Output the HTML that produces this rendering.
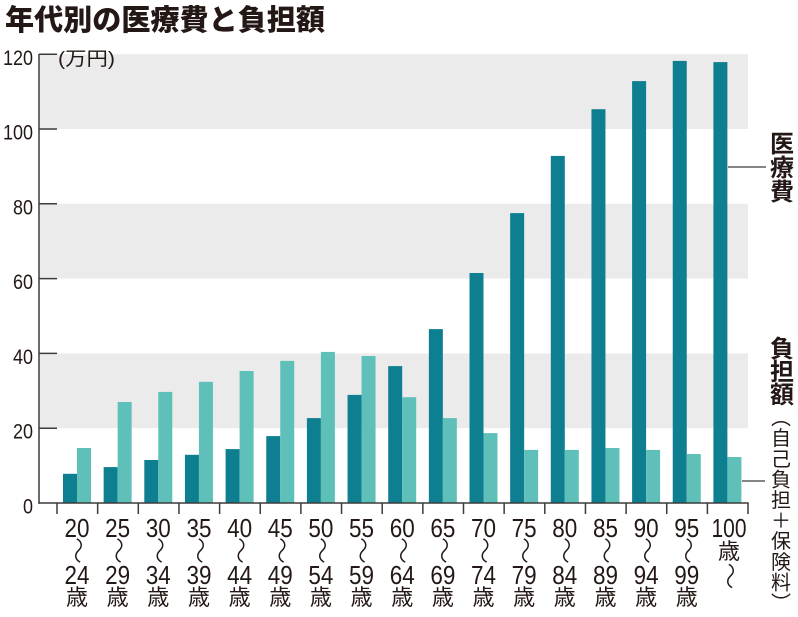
<!DOCTYPE html>
<html><head><meta charset="utf-8"><style>
html,body{margin:0;padding:0;background:#fff;}
body{position:relative;width:798px;height:616px;overflow:hidden;}
svg{display:block;position:absolute;left:0;top:0;}
.num{font-family:"Liberation Sans",sans-serif;fill:#231815;}
.jp{font-family:"Liberation Sans","Noto Sans CJK JP",sans-serif;fill:#231815;}
.vert{position:absolute;left:770.5px;top:407px;width:20px;height:210px;writing-mode:vertical-rl;text-orientation:mixed;font-family:"Noto Sans CJK JP",sans-serif;font-size:20px;line-height:20px;letter-spacing:0.6px;color:#231815;white-space:nowrap;}
</style></head><body>
<svg width="798" height="616" viewBox="0 0 798 616" xmlns="http://www.w3.org/2000/svg">
<rect width="798" height="616" fill="#fff"/>
<text class="jp" x="5" y="30" font-size="29" font-weight="900" textLength="320" lengthAdjust="spacingAndGlyphs">年代別の医療費と負担額</text>
<!-- bands -->
<g fill="#ebebeb">
<rect x="40" y="54.2" width="708" height="74.8"/>
<rect x="40" y="203.8" width="708" height="74.8"/>
<rect x="40" y="353.4" width="708" height="74.8"/>
</g>
<!-- dark bars -->
<g fill="#0e7f90">
<rect x="63" y="473.8" width="14" height="29.2"/>
<rect x="103.65" y="467.1" width="14" height="35.9"/>
<rect x="144.3" y="460" width="14" height="43"/>
<rect x="184.95" y="454.8" width="14" height="48.2"/>
<rect x="225.6" y="449.1" width="14" height="53.9"/>
<rect x="266.25" y="436.1" width="14" height="66.9"/>
<rect x="306.9" y="418.1" width="14" height="84.9"/>
<rect x="347.55" y="394.9" width="14" height="108.1"/>
<rect x="388.2" y="366.1" width="14" height="136.9"/>
<rect x="428.85" y="329.1" width="14" height="173.9"/>
<rect x="469.5" y="273" width="14" height="230"/>
<rect x="510.15" y="213.1" width="14" height="289.9"/>
<rect x="550.8" y="155.9" width="14" height="347.1"/>
<rect x="591.45" y="109.2" width="14" height="393.8"/>
<rect x="632.1" y="81.1" width="14" height="421.9"/>
<rect x="672.75" y="60.9" width="14" height="442.1"/>
<rect x="713.4" y="62.1" width="14" height="440.9"/>
</g>
<!-- light bars -->
<g fill="#5ec0b9">
<rect x="77" y="448" width="14" height="55"/>
<rect x="117.65" y="402" width="14" height="101"/>
<rect x="158.3" y="391.9" width="14" height="111.1"/>
<rect x="198.95" y="381.8" width="14" height="121.2"/>
<rect x="239.6" y="371" width="14" height="132"/>
<rect x="280.25" y="360.9" width="14" height="142.1"/>
<rect x="320.9" y="351.9" width="14" height="151.1"/>
<rect x="361.55" y="356" width="14" height="147"/>
<rect x="402.2" y="397.2" width="14" height="105.8"/>
<rect x="442.85" y="418.1" width="14" height="84.9"/>
<rect x="483.5" y="433.1" width="14" height="69.9"/>
<rect x="524.15" y="449.9" width="14" height="53.1"/>
<rect x="564.8" y="449.9" width="14" height="53.1"/>
<rect x="605.45" y="448" width="14" height="55"/>
<rect x="646.1" y="449.9" width="14" height="53.1"/>
<rect x="686.75" y="454" width="14" height="49"/>
<rect x="727.4" y="457" width="14" height="46"/>
</g>
<!-- axes -->
<g stroke="#3c3c3c" stroke-width="1.5" fill="none">
<line x1="39" y1="54" x2="39" y2="503.7"/>
<line x1="38.3" y1="503" x2="748.7" y2="503"/>
<line x1="39" y1="54.2" x2="57" y2="54.2"/>
<line x1="39" y1="129" x2="57" y2="129"/>
<line x1="39" y1="203.8" x2="57" y2="203.8"/>
<line x1="39" y1="278.6" x2="57" y2="278.6"/>
<line x1="39" y1="353.4" x2="57" y2="353.4"/>
<line x1="39" y1="428.2" x2="57" y2="428.2"/>
<line x1="57" y1="503" x2="57" y2="514"/>
<line x1="97.65" y1="503" x2="97.65" y2="514"/>
<line x1="138.3" y1="503" x2="138.3" y2="514"/>
<line x1="178.95" y1="503" x2="178.95" y2="514"/>
<line x1="219.6" y1="503" x2="219.6" y2="514"/>
<line x1="260.25" y1="503" x2="260.25" y2="514"/>
<line x1="300.9" y1="503" x2="300.9" y2="514"/>
<line x1="341.55" y1="503" x2="341.55" y2="514"/>
<line x1="382.2" y1="503" x2="382.2" y2="514"/>
<line x1="422.85" y1="503" x2="422.85" y2="514"/>
<line x1="463.5" y1="503" x2="463.5" y2="514"/>
<line x1="504.15" y1="503" x2="504.15" y2="514"/>
<line x1="544.8" y1="503" x2="544.8" y2="514"/>
<line x1="585.45" y1="503" x2="585.45" y2="514"/>
<line x1="626.1" y1="503" x2="626.1" y2="514"/>
<line x1="666.75" y1="503" x2="666.75" y2="514"/>
<line x1="707.4" y1="503" x2="707.4" y2="514"/>
<line x1="748" y1="503" x2="748" y2="514"/>
<line x1="728" y1="167" x2="766" y2="167" stroke-width="1.2"/>
<line x1="742" y1="481" x2="765" y2="481" stroke-width="1.2"/>
</g>
<!-- y labels -->
<g class="num" font-size="21" text-anchor="end">
<text x="33" y="65" textLength="30" lengthAdjust="spacingAndGlyphs">120</text>
<text x="33" y="139.5" textLength="30" lengthAdjust="spacingAndGlyphs">100</text>
<text x="33" y="214.3" textLength="20" lengthAdjust="spacingAndGlyphs">80</text>
<text x="33" y="289.1" textLength="20" lengthAdjust="spacingAndGlyphs">60</text>
<text x="33" y="363.9" textLength="20" lengthAdjust="spacingAndGlyphs">40</text>
<text x="33" y="438.7" textLength="20" lengthAdjust="spacingAndGlyphs">20</text>
<text x="33" y="513.5" textLength="10" lengthAdjust="spacingAndGlyphs">0</text>
</g>
<text class="jp" x="58" y="65" font-size="19" textLength="57" lengthAdjust="spacingAndGlyphs">(万円)</text>
<!-- x labels row1 -->
<g class="num" font-size="26" text-anchor="middle">
<text x="77" y="537" textLength="25" lengthAdjust="spacingAndGlyphs">20</text>
<text x="117.65" y="537" textLength="25" lengthAdjust="spacingAndGlyphs">25</text>
<text x="158.3" y="537" textLength="25" lengthAdjust="spacingAndGlyphs">30</text>
<text x="198.95" y="537" textLength="25" lengthAdjust="spacingAndGlyphs">35</text>
<text x="239.6" y="537" textLength="25" lengthAdjust="spacingAndGlyphs">40</text>
<text x="280.25" y="537" textLength="25" lengthAdjust="spacingAndGlyphs">45</text>
<text x="320.9" y="537" textLength="25" lengthAdjust="spacingAndGlyphs">50</text>
<text x="361.55" y="537" textLength="25" lengthAdjust="spacingAndGlyphs">55</text>
<text x="402.2" y="537" textLength="25" lengthAdjust="spacingAndGlyphs">60</text>
<text x="442.85" y="537" textLength="25" lengthAdjust="spacingAndGlyphs">65</text>
<text x="483.5" y="537" textLength="25" lengthAdjust="spacingAndGlyphs">70</text>
<text x="524.15" y="537" textLength="25" lengthAdjust="spacingAndGlyphs">75</text>
<text x="564.8" y="537" textLength="25" lengthAdjust="spacingAndGlyphs">80</text>
<text x="605.45" y="537" textLength="25" lengthAdjust="spacingAndGlyphs">85</text>
<text x="646.1" y="537" textLength="25" lengthAdjust="spacingAndGlyphs">90</text>
<text x="686.75" y="537" textLength="25" lengthAdjust="spacingAndGlyphs">95</text>
<text x="729" y="537" textLength="35" lengthAdjust="spacingAndGlyphs">100</text>
</g>
<!-- x labels row2 -->
<g class="num" font-size="26" text-anchor="middle">
<text x="77" y="584" textLength="25" lengthAdjust="spacingAndGlyphs">24</text>
<text x="117.65" y="584" textLength="25" lengthAdjust="spacingAndGlyphs">29</text>
<text x="158.3" y="584" textLength="25" lengthAdjust="spacingAndGlyphs">34</text>
<text x="198.95" y="584" textLength="25" lengthAdjust="spacingAndGlyphs">39</text>
<text x="239.6" y="584" textLength="25" lengthAdjust="spacingAndGlyphs">44</text>
<text x="280.25" y="584" textLength="25" lengthAdjust="spacingAndGlyphs">49</text>
<text x="320.9" y="584" textLength="25" lengthAdjust="spacingAndGlyphs">54</text>
<text x="361.55" y="584" textLength="25" lengthAdjust="spacingAndGlyphs">59</text>
<text x="402.2" y="584" textLength="25" lengthAdjust="spacingAndGlyphs">64</text>
<text x="442.85" y="584" textLength="25" lengthAdjust="spacingAndGlyphs">69</text>
<text x="483.5" y="584" textLength="25" lengthAdjust="spacingAndGlyphs">74</text>
<text x="524.15" y="584" textLength="25" lengthAdjust="spacingAndGlyphs">79</text>
<text x="564.8" y="584" textLength="25" lengthAdjust="spacingAndGlyphs">84</text>
<text x="605.45" y="584" textLength="25" lengthAdjust="spacingAndGlyphs">89</text>
<text x="646.1" y="584" textLength="25" lengthAdjust="spacingAndGlyphs">94</text>
<text x="686.75" y="584" textLength="25" lengthAdjust="spacingAndGlyphs">99</text>
</g>
<!-- 歳 -->
<g class="jp" font-size="22" text-anchor="middle">
<text x="77" y="605">歳</text>
<text x="117.65" y="605">歳</text>
<text x="158.3" y="605">歳</text>
<text x="198.95" y="605">歳</text>
<text x="239.6" y="605">歳</text>
<text x="280.25" y="605">歳</text>
<text x="320.9" y="605">歳</text>
<text x="361.55" y="605">歳</text>
<text x="402.2" y="605">歳</text>
<text x="442.85" y="605">歳</text>
<text x="483.5" y="605">歳</text>
<text x="524.15" y="605">歳</text>
<text x="564.8" y="605">歳</text>
<text x="605.45" y="605">歳</text>
<text x="646.1" y="605">歳</text>
<text x="686.75" y="605">歳</text>
<text x="729" y="559">歳</text>
</g>
<!-- waves -->
<g class="jp" font-size="27" font-weight="300" text-anchor="middle" dominant-baseline="central">
<text transform="translate(77,550.5) rotate(90)">〜</text>
<text transform="translate(117.65,550.5) rotate(90)">〜</text>
<text transform="translate(158.3,550.5) rotate(90)">〜</text>
<text transform="translate(198.95,550.5) rotate(90)">〜</text>
<text transform="translate(239.6,550.5) rotate(90)">〜</text>
<text transform="translate(280.25,550.5) rotate(90)">〜</text>
<text transform="translate(320.9,550.5) rotate(90)">〜</text>
<text transform="translate(361.55,550.5) rotate(90)">〜</text>
<text transform="translate(402.2,550.5) rotate(90)">〜</text>
<text transform="translate(442.85,550.5) rotate(90)">〜</text>
<text transform="translate(483.5,550.5) rotate(90)">〜</text>
<text transform="translate(524.15,550.5) rotate(90)">〜</text>
<text transform="translate(564.8,550.5) rotate(90)">〜</text>
<text transform="translate(605.45,550.5) rotate(90)">〜</text>
<text transform="translate(646.1,550.5) rotate(90)">〜</text>
<text transform="translate(686.75,550.5) rotate(90)">〜</text>
<text transform="translate(729,576) rotate(90)">〜</text>
</g>
<!-- right labels -->
<g class="jp" font-size="24" font-weight="bold" text-anchor="middle">
<text x="782" y="152">医</text>
<text x="782" y="176">療</text>
<text x="782" y="200">費</text>
<text x="782" y="357">負</text>
<text x="782" y="380">担</text>
<text x="782" y="403">額</text>
</g>
</svg>
<div class="vert">（自己負担＋保険料）</div>
</body></html>
